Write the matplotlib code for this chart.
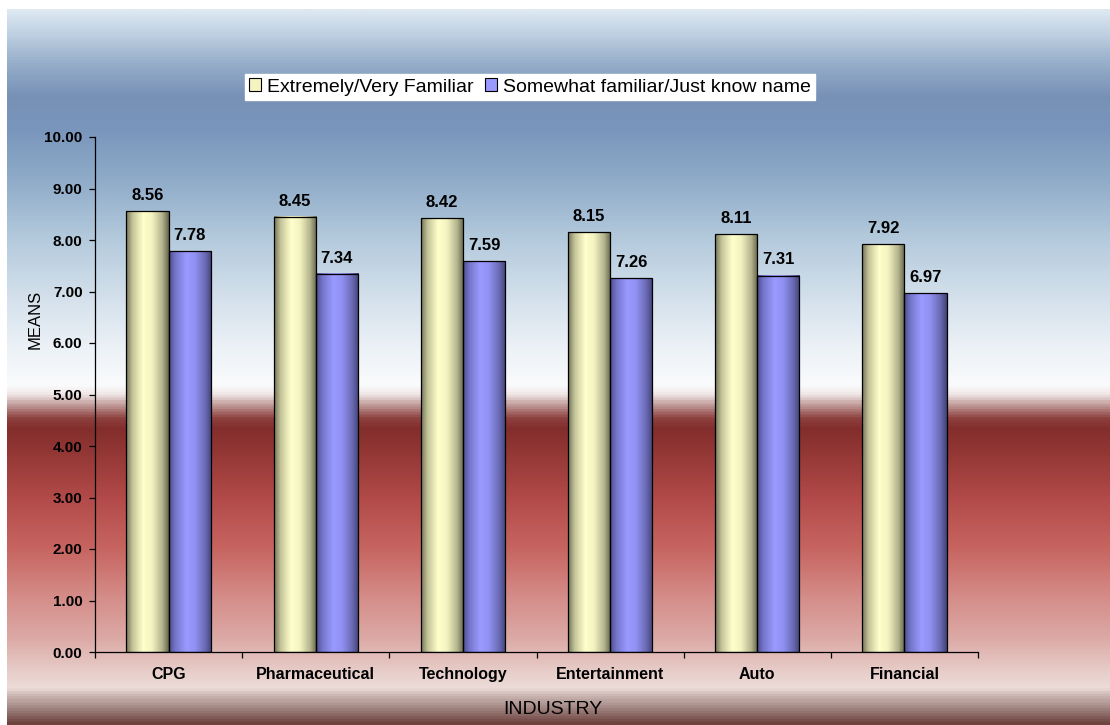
import numpy as np
import matplotlib
matplotlib.use("Agg")
import matplotlib.pyplot as plt
from matplotlib.colors import LinearSegmentedColormap
from matplotlib.patches import Patch

# ---- data ----
industries = ["CPG", "Pharmaceutical", "Technology", "Entertainment", "Auto", "Financial"]
familiar = [8.56, 8.45, 8.42, 8.15, 8.11, 7.92]
somewhat = [7.78, 7.34, 7.59, 7.26, 7.31, 6.97]
series_names = ["Extremely/Very Familiar", "Somewhat familiar/Just know name"]
y_ticks = [0, 1, 2, 3, 4, 5, 6, 7, 8, 9, 10]

plt.rcParams["font.family"] = ["Liberation Sans", "DejaVu Sans"]

W, H = 1110, 725
fig = plt.figure(figsize=(W / 100, H / 100), dpi=100)
fig.patch.set_facecolor("white")

# ---- background panel with vertical colour bands ----
bg_top = 9
bg_stops = [
    (9, "#dde8f2"), (30, "#c2d3e3"), (60, "#98b0cb"), (95, "#7790b6"),
    (130, "#7a96bc"), (180, "#90acc9"), (240, "#b5cbdd"), (300, "#d5e1ec"),
    (350, "#edf2f7"), (385, "#fafbfc"), (395, "#f0e6e6"), (405, "#c09a98"),
    (418, "#8f4442"), (428, "#822e2c"), (450, "#913634"), (500, "#b24b49"),
    (550, "#c76561"), (600, "#d58e8a"), (640, "#dcaaa6"), (670, "#e6cac6"),
    (690, "#ecdcd8"), (695, "#d4c0bc"), (710, "#a08480"), (725, "#6e4440"),
]
bg_cmap = LinearSegmentedColormap.from_list(
    "panel", [((y - bg_top) / (H - bg_top), c) for y, c in bg_stops])
bg = fig.add_axes([7 / W, 0, 1 - 7 / W, (H - bg_top) / H], zorder=0)
bg.imshow(np.linspace(0, 1, 800)[:, None], aspect="auto", cmap=bg_cmap,
          interpolation="bilinear", extent=[0, 1, 0, 1], origin="upper")
bg.set_axis_off()

# ---- plot area ----
ax = fig.add_axes([95 / W, 1 - 652 / H, (978 - 95) / W, (652 - 137) / H], zorder=1)
ax.patch.set_alpha(0)

yellow_cmap = LinearSegmentedColormap.from_list(
    "cyl_yellow", [(0, "#76765a"), (0.15, "#c4c49a"), (0.4, "#ffffcc"),
                   (0.6, "#f4f4c2"), (0.85, "#b4b48e"), (1, "#66664c")])
blue_cmap = LinearSegmentedColormap.from_list(
    "cyl_blue", [(0, "#50508e"), (0.15, "#7676cc"), (0.4, "#9999ff"),
                 (0.6, "#9292f4"), (0.85, "#6a6ab4"), (1, "#44447a")])
shade = np.linspace(0, 1, 64)[None, :]

x = np.arange(len(industries))
w = 0.286
bars1 = ax.bar(x - w / 2, familiar, w, facecolor="none", edgecolor="black",
               linewidth=0.9, zorder=3)
bars2 = ax.bar(x + w / 2, somewhat, w, facecolor="none", edgecolor="black",
               linewidth=0.9, zorder=3)

for bars, cmap, vals in ((bars1, yellow_cmap, familiar), (bars2, blue_cmap, somewhat)):
    for rect, v in zip(bars, vals):
        x0, bw, bh = rect.get_x(), rect.get_width(), rect.get_height()
        ax.imshow(shade, aspect="auto", cmap=cmap, interpolation="bilinear",
                  extent=[x0, x0 + bw, 0, bh], zorder=2)
        ax.annotate(f"{v:.2f}", (x0 + bw / 2, bh), xytext=(0, 8),
                    textcoords="offset points", ha="center", va="baseline",
                    fontsize=12, fontweight="bold", color="black", zorder=4)

ax.set_xlim(-0.5, len(industries) - 0.5)
ax.set_ylim(0, 10)

ax.spines["top"].set_visible(False)
ax.spines["right"].set_visible(False)
for s in ("left", "bottom"):
    ax.spines[s].set_color("black")
    ax.spines[s].set_linewidth(0.9)

ax.set_yticks(y_ticks)
ax.set_yticklabels([f"{t:.2f}" for t in y_ticks], fontsize=11, fontweight="bold")
ax.tick_params(axis="y", direction="out", length=4.5, width=0.9, pad=4.5)

ax.set_xticks(x)
ax.set_xticklabels(industries, fontsize=11.5, fontweight="bold")
ax.set_xticks(np.arange(-0.5, len(industries), 1.0), minor=True)
ax.tick_params(axis="x", which="major", length=0, pad=10.5)
ax.tick_params(axis="x", which="minor", direction="out", length=4, width=0.9)

fig.text(35 / W, 1 - 319 / H, "MEANS", rotation=90, ha="center", va="center",
         fontsize=12)
fig.text(553 / W, 1 - 710 / H, "INDUSTRY", ha="center", va="center", fontsize=14)

# ---- legend ----
handles = [
    Patch(facecolor="#f4f4c0", edgecolor="black", linewidth=0.8),
    Patch(facecolor="#9999ff", edgecolor="black", linewidth=0.8),
]
leg = fig.legend(handles, series_names, loc="center", ncol=2,
                 bbox_to_anchor=(530 / W, 1 - 87 / H), fontsize=14,
                 frameon=True, fancybox=False, edgecolor="white",
                 facecolor="white", framealpha=1, handlelength=0.6,
                 handleheight=0.6, handletextpad=0.3, columnspacing=0.6,
                 borderpad=0.25, borderaxespad=0)
leg.set_zorder(5)

fig.savefig("out.png", dpi=100)
